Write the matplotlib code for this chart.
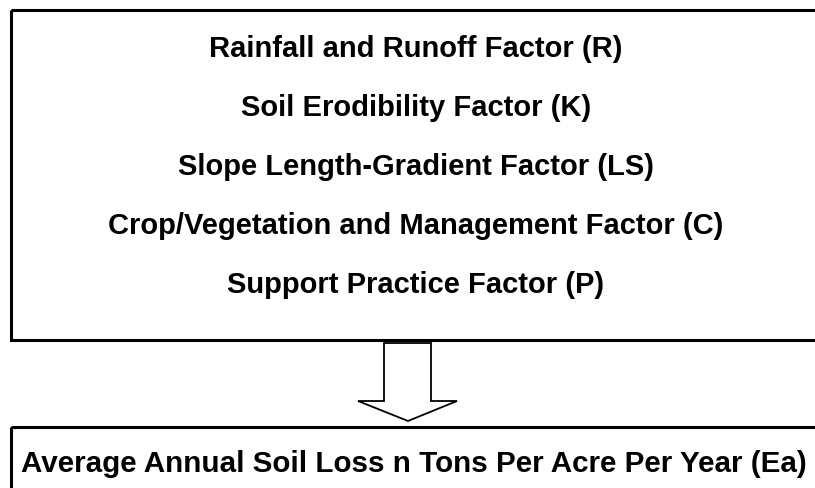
import matplotlib
matplotlib.use('Agg')
import matplotlib.pyplot as plt
from matplotlib.patches import Rectangle, Polygon

plt.rcParams['font.family'] = ['Liberation Sans', 'DejaVu Sans']

factors = [
	'Rainfall and Runoff Factor (R)',
	'Soil Erodibility Factor (K)',
	'Slope Length-Gradient Factor (LS)',
	'Crop/Vegetation and Management Factor (C)',
	'Support Practice Factor (P)',
]
result = 'Average Annual Soil Loss n Tons Per Acre Per Year (Ea)'

W, H = 815, 488
fig = plt.figure(figsize=(W / 100, H / 100), dpi=100)
ax = fig.add_axes([0, 0, 1, 1])
ax.set_xlim(0, W)
ax.set_ylim(H, 0)
ax.axis('off')

# top box (runs off the right edge like the source)
ax.add_patch(Rectangle((11, 10), 812, 330, fill=False, ec='black', lw=2.2))
for i, f in enumerate(factors):
	ax.text(416, 49 + i * 59, f, ha='center', va='center',
			fontsize=21, fontweight='bold')

# hollow down arrow
pts = [(384, 343), (431, 343), (431, 401), (457, 401),
	   (408, 421), (358, 401), (384, 401)]
ax.add_patch(Polygon(pts, closed=True, fill=False, ec='black', lw=1.3))

# result box
ax.add_patch(Rectangle((11, 427), 812, 80, fill=False, ec='black', lw=2.2))
ax.text(414, 464, result, ha='center', va='center',
		fontsize=21.3, fontweight='bold')

fig.savefig('out.png', dpi=100)
